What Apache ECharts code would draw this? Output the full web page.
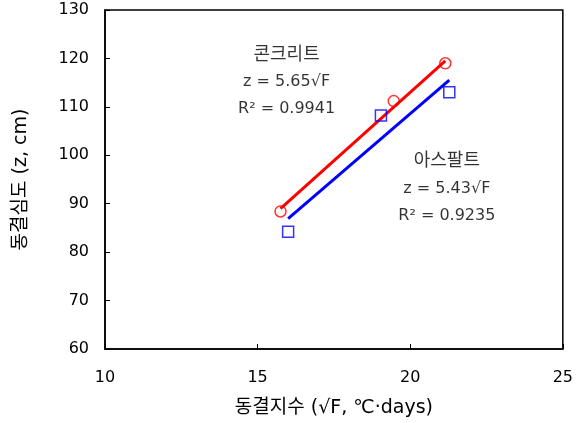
<!DOCTYPE html>
<html><head><meta charset="utf-8">
<script src="https://cdn.jsdelivr.net/npm/echarts@6/dist/echarts.min.js"></script>
<style>html,body{margin:0;padding:0;background:#fff}#c{width:576px;height:423px}</style>
</head><body><div id="c"></div>
<script>
var concreteX = [15.75, 19.46, 21.15];
var concreteY = [88.4, 111.2, 119.0];
var asphaltX = [16.0, 19.04, 21.28];
var asphaltY = [84.2, 108.2, 113.0];
var concreteFitX = [15.75, 21.15];
var concreteFitY = [89.0, 119.5];
var asphaltFitX = [16.0, 21.28];
var asphaltFitY = [86.9, 115.5];
var concreteLabel = ['콘크리트', 'z = 5.65√F', 'R² = 0.9941'];
var asphaltLabel = ['아스팔트', 'z = 5.43√F', 'R² = 0.9235'];
var concreteLabelPos = [15.95, 115.1];
var asphaltLabelPos = [21.2, 93.1];
var xTicks = [10, 15, 20, 25];
var yTicks = [60, 70, 80, 90, 100, 110, 120, 130];

var FONT2 = '"DejaVu Sans", "Noto Sans CJK KR", sans-serif';
function pairs(xs, ys){ return xs.map(function(x,i){return [x, ys[i]];}); }

var chart = echarts.init(document.getElementById('c'));
chart.setOption({
  animation: false,
  backgroundColor: '#fff',
  grid: {left: 105, right: 10, top: 10, bottom: 73, show: true, borderColor: '#000', borderWidth: 1.5},
  xAxis: {
    type: 'value', min: xTicks[0], max: xTicks[xTicks.length-1], interval: 5,
    name: '동결지수 (√F, ℃·days)', nameLocation: 'middle', nameGap: 50,
    nameTextStyle: {fontFamily: FONT2, fontSize: 19, color: '#000'},
    axisLine: {show: true, onZero: false, lineStyle: {color: '#000', width: 1.5}},
    axisTick: {show: true, inside: true, length: 5, lineStyle: {color: '#000'}},
    axisLabel: {fontFamily: FONT2, fontSize: 16, color: '#000', margin: 21},
    splitLine: {show: false}
  },
  yAxis: {
    type: 'value', min: yTicks[0], max: yTicks[yTicks.length-1], interval: 10,
    name: '동결심도 (z, cm)', nameLocation: 'middle', nameGap: 74, nameRotate: 90,
    nameTextStyle: {fontFamily: FONT2, fontSize: 19, color: '#000'},
    axisLine: {show: true, onZero: false, lineStyle: {color: '#000', width: 1.5}},
    axisTick: {show: true, inside: true, length: 5, lineStyle: {color: '#000'}},
    axisLabel: {fontFamily: FONT2, fontSize: 16, color: '#000', margin: 16},
    splitLine: {show: false}
  },
  series: [
    {type: 'line', data: pairs(concreteFitX, concreteFitY), symbol: 'none',
     lineStyle: {color: '#ff0000', width: 3}, z: 2},
    {type: 'line', data: pairs(asphaltFitX, asphaltFitY), symbol: 'none',
     lineStyle: {color: '#0000ff', width: 3}, z: 2},
    {type: 'scatter', data: pairs(concreteX, concreteY), symbol: 'circle', symbolSize: 11,
     itemStyle: {color: 'rgba(0,0,0,0)', borderColor: '#ff0000', borderWidth: 1.5}, z: 3},
    {type: 'scatter', data: pairs(asphaltX, asphaltY), symbol: 'rect', symbolSize: 11,
     itemStyle: {color: 'rgba(0,0,0,0)', borderColor: '#0000ff', borderWidth: 1.5}, z: 3},
    {type: 'scatter', symbolSize: 0, silent: true,
     data: [concreteLabelPos, asphaltLabelPos].map(function(p, i){
       var lines = i === 0 ? concreteLabel : asphaltLabel;
       return {value: p, label: {show: true, position: 'inside',
         formatter: '{k|' + lines[0] + '}\n' + lines[1] + '\n' + lines[2],
         rich: {k: {fontFamily: FONT2, fontSize: 18, color: '#000', lineHeight: 27}},
         fontFamily: FONT2, fontSize: 16, color: '#000', lineHeight: 27, align: 'center', verticalAlign: 'middle'}};
     })}
  ]
});
</script></body></html>
